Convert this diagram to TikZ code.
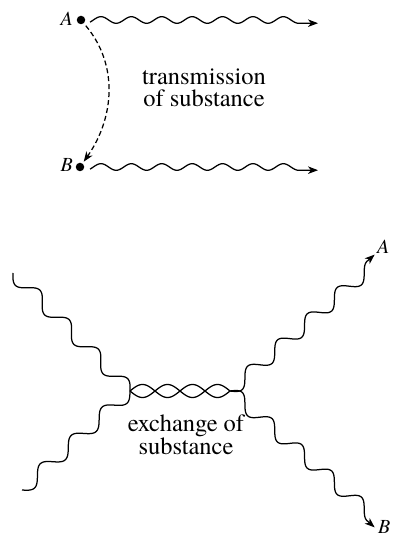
\documentclass[tikz,border=0pt]{standalone}
\usepackage{fontspec}
\setmainfont{texgyretermes}[Extension=.otf, UprightFont=*-regular, ItalicFont=*-italic]
\usetikzlibrary{arrows.meta}
\begin{document}
\begin{tikzpicture}[x=1pt,y=1pt,
  wave/.style={line width=1.25pt, line join=round},
  dotnode/.style={circle, fill=black, inner sep=0pt, minimum size=8.5pt},
  lbl/.style={font=\fontsize{20}{22}\selectfont\itshape, inner sep=0pt},
  caption/.style={font=\fontsize{24.5}{22.5}\selectfont, align=center, inner sep=0pt},
  tip/.style={-{Stealth[length=10pt,width=7.5pt,inset=3pt]}},
  dashline/.style={line width=1.25pt, dash pattern=on 5pt off 3pt}
]
\useasboundingbox (0,0) rectangle (392,538);
% top part
\node[dotnode] (A) at (81,518) {};
\node[dotnode] (B) at (80,371) {};
\node[lbl, anchor=base east] (la) at (73,512) {A};
\node[lbl, anchor=base east] (lb) at (73,366) {B};
\coordinate (ta) at (90,518);
\coordinate (tb) at (90,371);
\draw[wave, tip, shift={(ta)}] plot[domain=0:210, samples=200] (\x,{3.3*sin((\x/30.4)*360-40)}) -- (228,-3.2);
\draw[wave, tip, shift={(tb)}] plot[domain=0:210, samples=200] (\x,{3.3*sin((\x/30.4)*360-40)}) -- (228,-3.2);
\draw[dashline, tip, shorten <=3pt, shorten >=2pt] (A) to[out=-50, in=55] (B);
\node[caption] (t1) at (204,450) {transmission\\of substance};
% bottom part
\coordinate (ul) at (13,265);
\coordinate (ll) at (22,48);
\coordinate (L) at (130,147);
\coordinate (R) at (230,147);
\draw[wave, shift={(ul)}, rotate=-45.24] plot[domain=0:166.2, samples=160] (\x,{-7*sin((\x/41.55)*360)});
\draw[wave, shift={(ll)}, rotate=42.51] plot[domain=0:146.5, samples=150] (\x,{-7*sin((\x/41.86)*360)});
\draw[wave] plot[domain=130:230, samples=120] (\x,{147+6.5*sin(7.2*(\x-130))});
\draw[wave] plot[domain=130:230, samples=120] (\x,{147-6.5*sin(7.2*(\x-130))});
\draw[wave, tip, shift={(R)}, rotate=41.3] plot[domain=0:188.6, samples=180] (\x,{-7*sin((\x/39.7)*360)}) -- (198.7,7);
\draw[wave, tip, shift={(R)}, rotate=-41.3] plot[domain=0:188.6, samples=180] (\x,{7*sin((\x/39.7)*360)}) -- (198.7,-7);
\node[lbl, anchor=base west] (ra) at (377,284) {A};
\node[lbl, anchor=base west] (rb) at (378,5) {B};
\node[caption] (t2) at (186,103) {exchange of\\substance};
\end{tikzpicture}
\end{document}
